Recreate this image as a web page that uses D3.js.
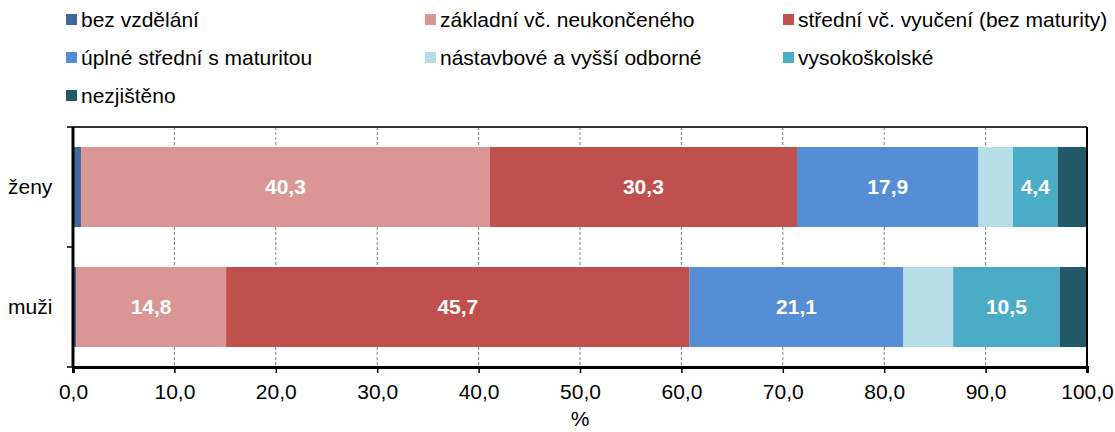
<!DOCTYPE html>
<html>
<head>
<meta charset="utf-8">
<script src="https://cdn.jsdelivr.net/npm/d3@7"></script>
<style>
  body { margin: 0; background: #fff; }
  text { font-family: "Liberation Sans", Arial, sans-serif; }
</style>
</head>
<body>
<div id="chart"></div>
<script>
// data
var categories = ["ženy", "muži"];
var series = ["bez vzdělání", "základní vč. neukončeného", "střední vč. vyučení (bez maturity)",
    "úplné střední s maturitou", "nástavbové a vyšší odborné", "vysokoškolské", "nezjištěno"];
var colors = ["#3d68a0", "#d99694", "#c0504d", "#558ed5", "#b7dee8", "#4bacc6", "#215968"];
var zenyValues = [0.8, 40.3, 30.3, 17.9, 3.4, 4.4, 2.9];
var muziValues = [0.3, 14.8, 45.7, 21.1, 4.9, 10.5, 2.7];
var labelledSeries = [1, 2, 3, 5];
var xTicks = [0, 10, 20, 30, 40, 50, 60, 70, 80, 90, 100];

var values = [zenyValues, muziValues];

var width = 1115, height = 432;
var margin = { top: 127, right: 28, bottom: 65, left: 73 },
    w = width - margin.left - margin.right,
    h = height - margin.top - margin.bottom;
var fontSize = "21px";

var svg = d3.select("#chart").append("svg")
    .attr("width", width)
    .attr("height", height);

var g = svg.append("g")
    .attr("transform", "translate(" + margin.left + "," + margin.top + ")");

var x = d3.scaleLinear().domain([0, 100]).range([0, w]);
var y = d3.scaleBand().domain(categories).range([0, h]).paddingInner(1 / 3).paddingOuter(1 / 6);

// gridlines
g.selectAll(".grid")
    .data(xTicks.slice(1, -1))
    .enter().append("line")
    .attr("x1", function (d) { return x(d); })
    .attr("x2", function (d) { return x(d); })
    .attr("y1", 0)
    .attr("y2", h)
    .attr("stroke", "#808080")
    .attr("stroke-width", 1)
    .attr("stroke-dasharray", "3,2");

// stacked bars
var stackData = categories.map(function (c, i) {
    var cum = 0;
    return values[i].map(function (v, j) {
        var seg = { cat: c, series: j, value: v, x0: cum, x1: cum + v };
        cum += v;
        return seg;
    });
});

var rows = g.selectAll(".row")
    .data(stackData)
    .enter().append("g");

rows.selectAll("rect")
    .data(function (d) { return d; })
    .enter().append("rect")
    .attr("x", function (d) { return x(d.x0); })
    .attr("width", function (d) { return x(d.x1) - x(d.x0); })
    .attr("y", function (d) { return y(d.cat); })
    .attr("height", y.bandwidth())
    .attr("fill", function (d) { return colors[d.series]; });

rows.selectAll(".lbl")
    .data(function (d) { return d.filter(function (s) { return labelledSeries.indexOf(s.series) >= 0; }); })
    .enter().append("text")
    .attr("x", function (d) { return x((d.x0 + d.x1) / 2); })
    .attr("y", function (d) { return y(d.cat) + y.bandwidth() / 2; })
    .attr("dy", "0.35em")
    .attr("text-anchor", "middle")
    .attr("fill", "#fff")
    .style("font-size", fontSize)
    .style("font-weight", "bold")
    .text(function (d) { return d.value.toFixed(1).replace(".", ","); });

// top and right border
g.append("line").attr("x1", 0).attr("x2", w).attr("y1", 0).attr("y2", 0)
    .attr("stroke", "#333").attr("stroke-width", 2);
g.append("line").attr("x1", w).attr("x2", w).attr("y1", 0).attr("y2", h)
    .attr("stroke", "#000").attr("stroke-width", 2);

// x axis
var xAxis = g.append("g")
    .attr("transform", "translate(0," + h + ")")
    .call(d3.axisBottom(x).tickValues(xTicks).tickSize(6).tickPadding(11)
        .tickFormat(function (d) { return d.toFixed(1).replace(".", ","); }));
xAxis.select(".domain").attr("stroke", "#000").attr("stroke-width", 3);
xAxis.selectAll(".tick line").attr("stroke", "#000").attr("stroke-width", 1.5);
xAxis.selectAll("text").style("font-size", fontSize).attr("fill", "#000");

// y axis
var yAxis = g.append("g");
yAxis.append("line").attr("x1", 0).attr("x2", 0).attr("y1", 0).attr("y2", h)
    .attr("stroke", "#000").attr("stroke-width", 3);
yAxis.selectAll(".ytick")
    .data([0, h / 2, h])
    .enter().append("line")
    .attr("x1", -6).attr("x2", 0)
    .attr("y1", function (d) { return d; })
    .attr("y2", function (d) { return d; })
    .attr("stroke", "#000").attr("stroke-width", 1.5);
yAxis.selectAll(".ylbl")
    .data(categories)
    .enter().append("text")
    .attr("x", -65)
    .attr("y", function (d) { return y(d) + y.bandwidth() / 2; })
    .attr("dy", "0.35em")
    .style("font-size", fontSize)
    .text(function (d) { return d; });

// axis title
svg.append("text")
    .attr("x", margin.left + w / 2)
    .attr("y", 426)
    .attr("text-anchor", "middle")
    .style("font-size", fontSize)
    .text("%");

// legend
var legendCols = [66, 425, 783];
var legendRows = [20, 58, 96];
var legend = svg.selectAll(".legend")
    .data(series)
    .enter().append("g")
    .attr("transform", function (d, i) {
        return "translate(" + legendCols[i % 3] + "," + legendRows[Math.floor(i / 3)] + ")";
    });
legend.append("rect")
    .attr("x", 0).attr("y", -6)
    .attr("width", 11).attr("height", 11)
    .attr("fill", function (d, i) { return colors[i]; });
legend.append("text")
    .attr("x", 15)
    .attr("dy", "0.35em")
    .style("font-size", fontSize)
    .text(function (d) { return d; });
</script>
</body>
</html>
